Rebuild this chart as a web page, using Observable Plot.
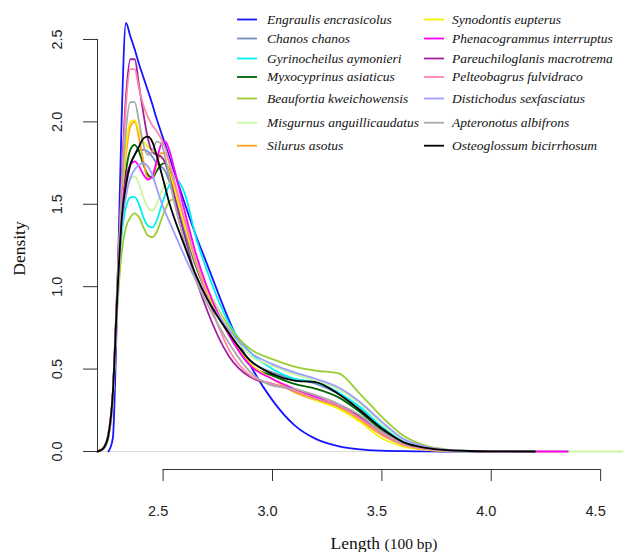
<!DOCTYPE html>
<html><head><meta charset="utf-8">
<script src="https://cdn.jsdelivr.net/npm/d3@7"></script>
<script src="https://cdn.jsdelivr.net/npm/@observablehq/plot@0.6"></script>
<style>body{margin:0;background:#fff} #chart{width:625px;height:552px}</style>
</head><body><div id="chart"></div>
<script>
// ---- data ----
const lengthGrid = [2.2, 2.21, 2.23, 2.25, 2.27, 2.29, 2.31, 2.33, 2.35, 2.37, 2.39, 2.41, 2.43, 2.45, 2.47, 2.49, 2.51, 2.53, 2.55, 2.6, 2.65, 2.7, 2.8, 2.9, 3.0, 3.1, 3.2, 3.3, 3.4, 3.5, 3.6, 3.7, 3.8, 3.9, 4.0, 4.2, 4.35, 4.6];

const engraulis = [null,null,null,0,0.08,0.9, 2.0,2.6,2.52,2.44,2.35,2.27,2.19,2.11,2.02,1.94,1.86,1.78,1.70, 1.50,1.31,1.14,0.80,0.52, 0.31,0.16,0.075,0.033,0.013,0.005,0.002,0.001,0,0,0, null,null,null];
const chanos = [0,0.005,0.025,0.1,0.34,0.93, 1.4,1.6,1.74,1.80,1.83,1.83,1.82,1.79,1.75,1.73,1.70,1.63,1.54, 1.32,1.12,0.96,0.72,0.55, 0.48,0.44,0.41,0.35,0.26,0.14,0.06,0.025,0.009,0.003,0.001, 0,null,null];
const gyrinocheilus = [0,0.004,0.02,0.09,0.32,0.88, 1.3,1.48,1.54,1.545,1.50,1.42,1.37,1.36,1.40,1.48,1.56,1.62,1.66, 1.56,1.30,1.10,0.78,0.60, 0.50,0.44,0.42,0.36,0.27,0.15,0.06,0.025,0.009,0.003,0.001, 0,null,null];
const myxocyprinus = [0,0.005,0.025,0.1,0.35,0.95, 1.45,1.70,1.83,1.86,1.82,1.74,1.68,1.66,1.70,1.74,1.75,1.70,1.60, 1.36,1.13,0.96,0.71,0.52, 0.46,0.41,0.38,0.33,0.24,0.13,0.05,0.02,0.008,0.003,0.001, 0,null,null];
const beaufortia = [0,0.004,0.02,0.09,0.30,0.85, 1.2,1.36,1.42,1.445,1.42,1.36,1.31,1.30,1.33,1.40,1.47,1.52,1.53, 1.40,1.17,1.00,0.76,0.62, 0.56,0.515,0.49,0.475,0.35,0.21,0.095,0.035,0.012,0.004,0.001, 0,0,null];
const misgurnus = [0,0.006,0.03,0.11,0.34,0.9, 1.35,1.55,1.65,1.67,1.62,1.54,1.48,1.46,1.50,1.57,1.62,1.63,1.58, 1.38,1.17,1.00,0.74,0.58, 0.52,0.47,0.43,0.38,0.29,0.17,0.07,0.03,0.01,0.004,0.002, 0.001,0,0];
const silurus = [0,0.005,0.025,0.1,0.35,0.95, 1.5,1.80,1.97,2.00,1.90,1.76,1.66,1.66,1.74,1.81,1.81,1.74,1.63, 1.38,1.15,0.98,0.72,0.53, 0.44,0.36,0.31,0.27,0.19,0.10,0.04,0.015,0.005,0.002,0.001, 0,null,null];
const synodontis = [0,0.005,0.025,0.1,0.36,0.97, 1.55,1.85,2.00,2.01,1.94,1.88,1.85,1.83,1.81,1.79,1.76,1.69,1.60, 1.36,1.14,0.97,0.71,0.53, 0.44,0.37,0.31,0.26,0.18,0.08,0.03,0.01,0.003,0.001,0, null,null,null];
const phenacogrammus = [0,0.005,0.025,0.1,0.35,0.95, 1.45,1.65,1.74,1.76,1.73,1.68,1.65,1.67,1.76,1.86,1.88,1.82,1.72, 1.45,1.20,1.00,0.71,0.52, 0.44,0.38,0.33,0.28,0.21,0.12,0.05,0.02,0.008,0.003,0.001, 0,0,null];
const pareuchiloglanis = [0,0.005,0.025,0.1,0.36,1.0, 1.65,2.15,2.38,2.38,2.22,2.05,1.90,1.82,1.80,1.79,1.75,1.66,1.56, 1.30,1.05,0.86,0.58,0.45, 0.41,0.37,0.32,0.28,0.21,0.11,0.045,0.018,0.006,0.002,0.001, 0,null,null];
const pelteobagrus = [0,0.005,0.025,0.09,0.33,0.95, 1.6,2.1,2.32,2.32,2.2,2.1,2.03,1.98,1.945,1.90,1.84,1.75,1.65, 1.40,1.15,0.95,0.62,0.46, 0.41,0.37,0.32,0.28,0.20,0.11,0.04,0.015,0.005,0.002,0.001, 0,null,null];
const distichodus = [0,0.006,0.03,0.11,0.34,0.9, 1.35,1.55,1.66,1.71,1.74,1.75,1.73,1.68,1.60,1.52,1.45,1.39,1.33, 1.18,1.04,0.93,0.74,0.60, 0.53,0.48,0.44,0.39,0.30,0.18,0.075,0.03,0.01,0.004,0.001, 0,null,null];
const apteronotus = [0,0.006,0.03,0.11,0.36,0.97, 1.55,1.95,2.12,2.12,2.0,1.86,1.80,1.82,1.88,1.87,1.78,1.65,1.52, 1.26,1.04,0.90,0.66,0.48, 0.40,0.38,0.34,0.29,0.22,0.12,0.05,0.02,0.007,0.002,0.001, 0,null,null];
const osteoglossum = [0,0.005,0.025,0.1,0.35,0.93, 1.4,1.62,1.74,1.80,1.85,1.90,1.91,1.88,1.80,1.70,1.60,1.50,1.42, 1.24,1.07,0.93,0.72,0.55, 0.47,0.43,0.42,0.35,0.25,0.14,0.055,0.022,0.008,0.003,0.001, 0,null,null];

const speciesNames = ["Engraulis encrasicolus","Chanos chanos","Gyrinocheilus aymonieri","Myxocyprinus asiaticus","Beaufortia kweichowensis","Misgurnus anguillicaudatus","Silurus asotus","Synodontis eupterus","Phenacogrammus interruptus","Pareuchiloglanis macrotrema","Pelteobagrus fulvidraco","Distichodus sexfasciatus","Apteronotus albifrons","Osteoglossum bicirrhosum"];
const speciesValues = [engraulis, chanos, gyrinocheilus, myxocyprinus, beaufortia, misgurnus, silurus, synodontis, phenacogrammus, pareuchiloglanis, pelteobagrus, distichodus, apteronotus, osteoglossum];
const speciesColors = ["#1515ff","#6e8fc0","#00f0f0","#006400","#9acd32","#c8f7a0","#ffa020","#f2f200","#ff00ff","#a020a0","#ff86aa","#9e9eff","#a9a9a9","#000000"];

const xTicks = [2.5, 3.0, 3.5, 4.0, 4.5];
const yTicks = [0, 0.5, 1.0, 1.5, 2.0, 2.5];
const xDomain = [2.2, 4.6];
const yDomain = [0, 2.7];

// ---- layout ----
const W = 625, H = 552;
const M = {left: 97, right: 3, top: 6, bottom: 101};
const xAxisOffset = 18;
const legendRowY = [19.5, 38.5, 58.5, 77, 98.5, 122.7, 145.7];
const legendCols = [{line: 237, text: 267}, {line: 424, text: 452}];

const rows = [];
speciesNames.forEach((name, i) => {
  speciesValues[i].forEach((v, j) => {
    if (v != null) rows.push({species: name, length: lengthGrid[j], density: v});
  });
});

const fmt = d3.format(".1f");
const plot = Plot.plot({
  width: W, height: H,
  marginLeft: M.left, marginRight: M.right, marginTop: M.top, marginBottom: M.bottom,
  style: {fontFamily: "'Liberation Sans', Arial, sans-serif", fontSize: "14.5px", background: "#fff", overflow: "visible", color: "#222"},
  x: {domain: xDomain},
  y: {domain: yDomain},
  color: {domain: speciesNames, range: speciesColors},
  marks: [
    Plot.ruleY([0], {stroke: "#dcdcdc", strokeWidth: 1}),
    Plot.line(rows, {x: "length", y: "density", z: "species", stroke: "species", strokeWidth: 1.8, curve: "monotone-x"}),
    Plot.ruleY([0], {x1: xTicks[0], x2: xTicks[xTicks.length - 1], dy: xAxisOffset, stroke: "#333"}),
    Plot.axisX({ticks: xTicks, tickSize: 12, dy: xAxisOffset, label: null, stroke: "#333", fill: "none"}),
    Plot.axisX({ticks: xTicks, tickFormat: fmt, tickSize: 0, tickPadding: 36.5, dy: xAxisOffset, dx: -5, label: null, fill: "#222", fontSize: 14.5}),
    Plot.ruleX([xDomain[0]], {y1: yTicks[0], y2: yTicks[yTicks.length - 1], stroke: "#333"}),
    Plot.axisY({ticks: yTicks, tickFormat: fmt, tickSize: 14, tickRotate: -90, tickPadding: 21.5, label: null, stroke: "#333", fill: "#222", fontSize: 14.5})
  ]
});

const svg = d3.select(plot);
const serif = "'Liberation Serif', 'Times New Roman', serif";
// axis titles
svg.append("text")
  .attr("transform", "translate(24.5,248.5) rotate(-90)")
  .attr("text-anchor", "middle")
  .attr("font-family", serif)
  .attr("font-size", 17.5).attr("fill", "#111")
  .text("Density");
const xt = svg.append("text")
  .attr("x", 384).attr("y", 549)
  .attr("text-anchor", "middle")
  .attr("font-family", serif)
  .attr("fill", "#111");
xt.append("tspan").attr("font-size", 17.5).text("Length ");
xt.append("tspan").attr("font-size", 15.5).text("(100 bp)");

// legend
const lg = svg.append("g").attr("text-anchor", "start");
speciesNames.forEach((name, i) => {
  const col = legendCols[Math.floor(i / 7)];
  const y = legendRowY[i % 7];
  lg.append("line").attr("x1", col.line).attr("x2", col.line + 20).attr("y1", y).attr("y2", y)
    .attr("stroke", speciesColors[i]).attr("stroke-width", 1.8);
  lg.append("text").attr("x", col.text).attr("y", y).attr("dy", "0.33em")
    .attr("text-anchor", "start")
    .attr("font-family", serif)
    .attr("font-style", "italic").attr("font-size", 13.5).attr("fill", "#111")
    .text(name);
});

document.getElementById("chart").appendChild(plot);
</script>
</body></html>
